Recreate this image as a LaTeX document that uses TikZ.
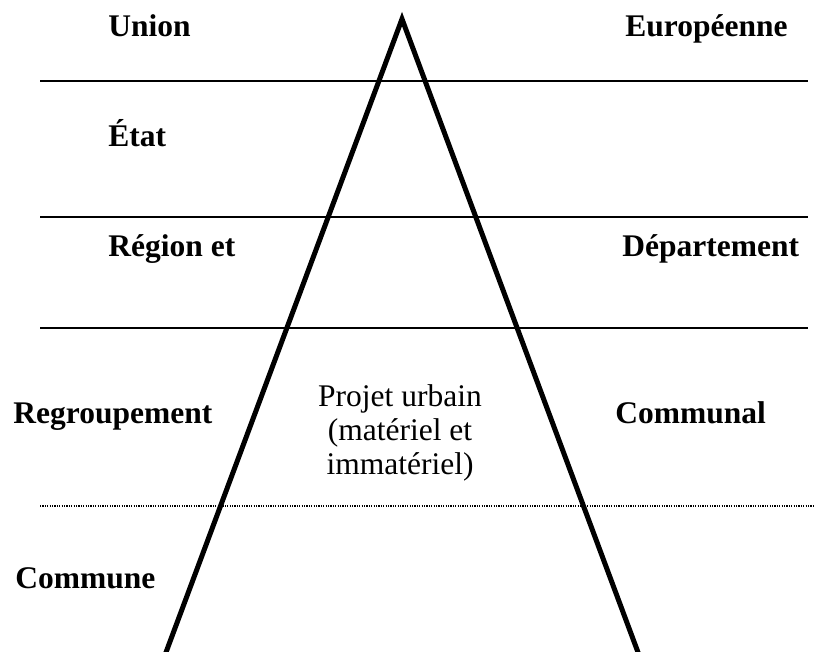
\documentclass[tikz,border=0pt]{standalone}
\usepackage{fontspec}
\setmainfont{Liberation Serif}
\begin{document}
\begin{tikzpicture}[x=0.5pt,y=-0.5pt, line join=miter, font=\fontsize{15.75}{17}\selectfont,
	lab/.style={anchor=base west, inner sep=0pt, font=\fontsize{15.75}{17}\selectfont\bfseries}]
		\def\xl{40} \def\xr{808} % lignes
		\useasboundingbox (0,0) rectangle (814,652);
		% niveaux
		\foreach \y in {81,217,328}
		\draw[line width=1pt] (\xl,\y)--(\xr,\y);
		\draw[line width=0.8pt, dash pattern=on 0.6pt off 0.6pt] (\xl,506)--(814,506);
		% pyramide
		\coordinate (sommet) at (402,19);
		\coordinate (basegauche) at (165,655);
		\coordinate (basedroite) at (639,655);
		\draw[line width=2.5pt] (basegauche)--(sommet)--(basedroite);
		% textes
		\node[lab] (union) at (108,37) {Union};
		\node[lab] (europe) at (625,37) {Européenne};
		\node[lab] (etat) at (108,147) {État};
		\node[lab] (region) at (108,257) {Région et};
		\node[lab] (departement) at (622,257) {Département};
		\node[lab] (regroupement) at (13,423) {Regroupement};
		\node[lab] (communal) at (615,423) {Communal};
		\node[lab] (commune) at (15,588) {Commune};
		\node[anchor=base, inner sep=0pt, align=center] (projet) at (400,474) {Projet urbain\\(matériel et\\immatériel)};
\end{tikzpicture}
\end{document}
